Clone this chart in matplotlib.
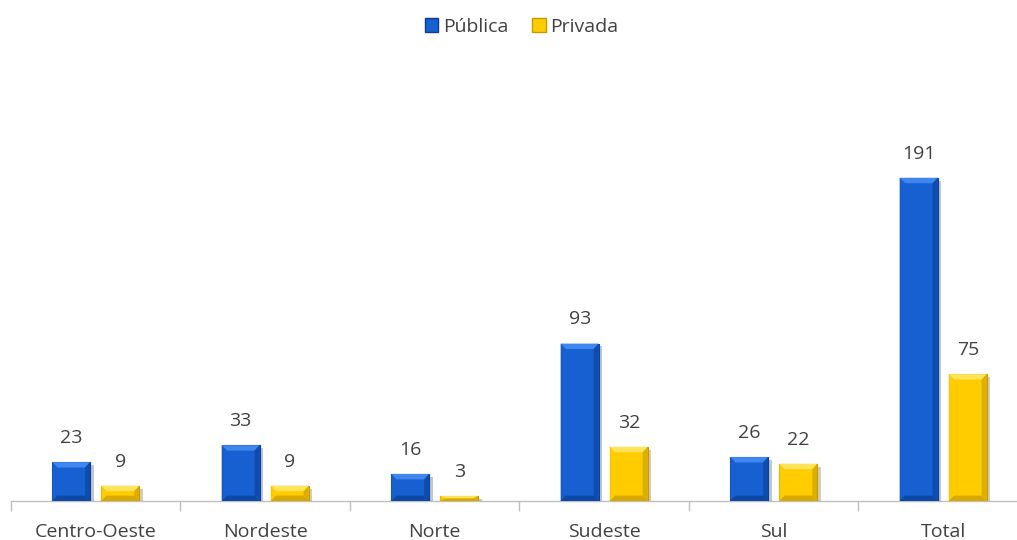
import numpy as np
import matplotlib.pyplot as plt
from matplotlib.patches import Polygon, Patch
from matplotlib import patheffects

# regiões e número de instituições por tipo
regioes = ["Centro-Oeste", "Nordeste", "Norte", "Sudeste", "Sul", "Total"]
publica = [23, 33, 16, 93, 26, 191]
privada = [9, 9, 3, 32, 22, 75]

AZUL = "#1660d2"
AZUL_ESC = "#0b3f95"
AZUL_CLARO = "#3f86ee"
AMARELO = "#ffcc00"
AMARELO_ESC = "#c59a00"
AMARELO_CLARO = "#ffe45a"
CINZA = "#404040"

plt.rcParams["font.family"] = ["Open Sans", "DejaVu Sans"]

fig = plt.figure(figsize=(10.17, 5.4), dpi=100)
ax = fig.add_axes([0.0108, 0.0722, 1.0, 0.7834])

x = np.arange(len(regioes))
w = 0.224
off = 0.145
ymax = 250
ax.set_xlim(-0.5, len(regioes) - 0.5)
ax.set_ylim(0, ymax)


def bar_bevel(ax, xc, h, cor, escura, clara):
    """barra com acabamento chanfrado (topo claro, laterais escuras)"""
    bars = ax.bar(xc, h, w, color=cor, edgecolor=escura, linewidth=0.8, zorder=3)
    bars[0].set_path_effects([patheffects.SimplePatchShadow(offset=(2.5, -2), alpha=0.25),
                              patheffects.Normal()])
    x0, x1 = xc - w / 2, xc + w / 2
    dx = 0.03
    dy = min(3.2, h / 2)
    kw = dict(linewidth=0, zorder=4)
    # topo
    ax.add_patch(Polygon([(x0, h), (x1, h), (x1 - dx, h - dy), (x0 + dx, h - dy)],
                         facecolor=clara, **kw))
    # lateral esquerda
    ax.add_patch(Polygon([(x0, h), (x0 + dx, h - dy), (x0 + dx, dy), (x0, 0)],
                         facecolor=cor, alpha=0.9, **kw))
    # lateral direita
    ax.add_patch(Polygon([(x1, h), (x1 - dx, h - dy), (x1 - dx, dy), (x1, 0)],
                         facecolor=escura, alpha=0.6, **kw))
    # base
    ax.add_patch(Polygon([(x0, 0), (x1, 0), (x1 - dx, dy), (x0 + dx, dy)],
                         facecolor=escura, alpha=0.7, **kw))
    ax.annotate(str(h), (xc, h), xytext=(0, 11), textcoords="offset points",
                ha="center", va="bottom", fontsize=14, color=CINZA)


for i in range(len(regioes)):
    bar_bevel(ax, x[i] - off, publica[i], AZUL, AZUL_ESC, AZUL_CLARO)
    bar_bevel(ax, x[i] + off, privada[i], AMARELO, AMARELO_ESC, AMARELO_CLARO)

for s in ["top", "right", "left"]:
    ax.spines[s].set_visible(False)
ax.spines["bottom"].set_color("#bfbfbf")
ax.spines["bottom"].set_linewidth(1)
ax.set_yticks([])

ax.set_xticks(x)
ax.set_xticklabels(regioes, fontsize=14, color=CINZA)
ax.tick_params(axis="x", which="major", length=0, pad=16)
ax.set_xticks(np.arange(len(regioes) + 1) - 0.5, minor=True)
ax.tick_params(axis="x", which="minor", length=7, color="#bfbfbf", width=1)

handles = [Patch(facecolor=AZUL, edgecolor=AZUL_ESC, label="Pública"),
           Patch(facecolor=AMARELO, edgecolor=AMARELO_ESC, label="Privada")]
fig.legend(handles=handles, loc="center", bbox_to_anchor=(0.513, 0.95), ncol=2, frameon=False,
           fontsize=14, handlelength=0.7, handleheight=0.7, handletextpad=0.25,
           columnspacing=1.2, labelcolor=CINZA)

fig.savefig("out.png", dpi=100)
